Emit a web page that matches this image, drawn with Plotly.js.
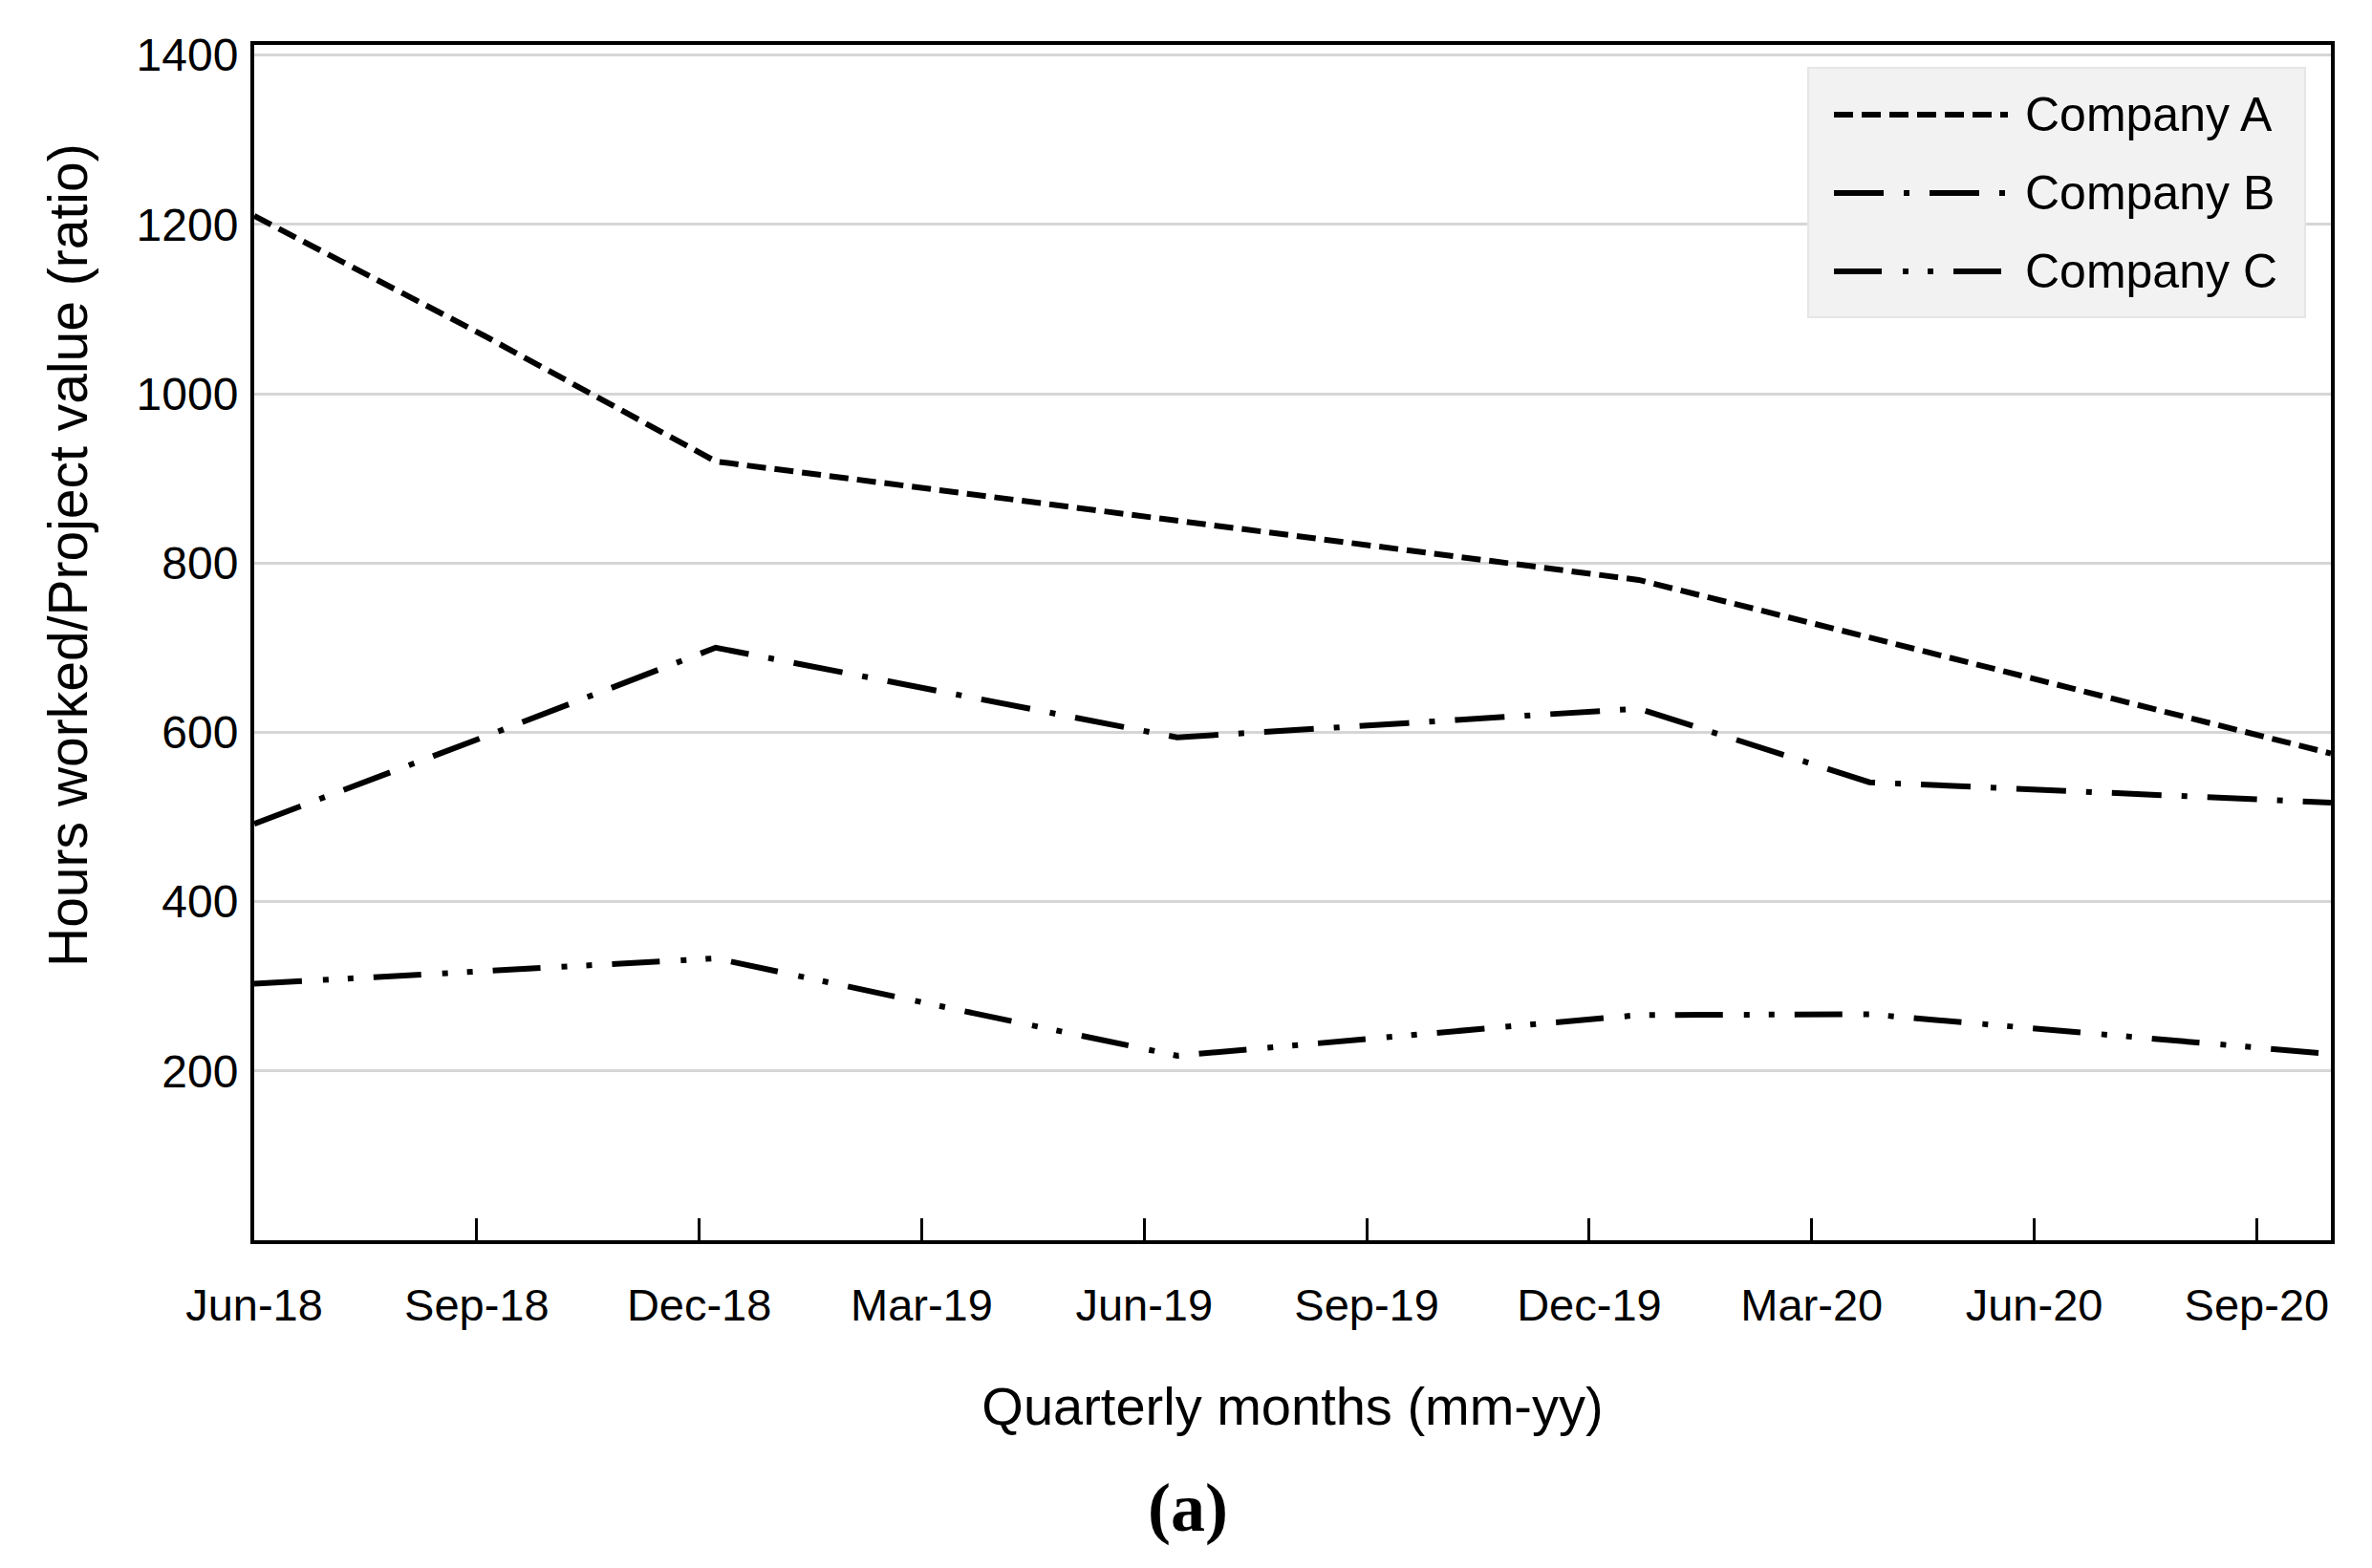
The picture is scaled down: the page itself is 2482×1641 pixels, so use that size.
<!DOCTYPE html>
<html>
<head>
<meta charset="utf-8">
<script src="https://cdn.plot.ly/plotly-3.0.1.min.js"></script>
<style>
  html, body { margin: 0; padding: 0; background: #ffffff; }
  #chart { width: 2482px; height: 1641px; }
</style>
</head>
<body>
<div id="chart"></div>
<script>
// ---- Data ----
const quarterLabels = ['Jun-18', 'Sep-18', 'Dec-18', 'Mar-19', 'Jun-19', 'Sep-19', 'Dec-19', 'Mar-20', 'Jun-20', 'Sep-20'];
const pointIndex = [0, 1, 2, 3, 4, 5, 6, 7, 8, 9];
const seriesNames = ['Company A', 'Company B', 'Company C'];
const companyA = [1210, 1068, 920, 885, 850, 815, 780, 712, 644, 575];
const companyB = [492, 595, 700, 647, 594, 611, 628, 541, 529, 517];
const companyC = [303, 318, 333, 275, 218, 242, 266, 267, 244, 220];
const yTickVals = [200, 400, 600, 800, 1000, 1200, 1400];

// axis spans Jun-18 .. Oct-20 (28 months) over the 10 evenly spaced points
const spanMonths = 28;
const lastIndex = pointIndex.length - 1;
const tickVals = quarterLabels.map((_, k) => k * 3 * lastIndex / spanMonths);

const dashes = ['20px,9px', '52px,21px,6px,21px', '50px,22px,6px,20px,6px,21px'];
const seriesValues = [companyA, companyB, companyC];

const traces = seriesValues.map((vals, s) => ({
  type: 'scatter',
  mode: 'lines',
  name: seriesNames[s],
  x: pointIndex,
  y: vals,
  line: { color: '#000000', width: 6, dash: dashes[s] },
  showlegend: false,
  hoverinfo: 'x+y+name'
}));

const W = 2482, H = 1641;
const mL = 266, mR = 43, mT = 47, mB = 343;
const pw = W - mL - mR, ph = H - mT - mB;
const px2x = p => (p - mL) / pw;         // pixel -> paper x
const px2y = p => (H - mB - p) / ph;     // pixel -> paper y

const sans = '"Liberation Sans", Arial, sans-serif';

// manual legend (long line samples as in the reference)
const legendRows = [120, 202, 284];
const shapes = [{
  type: 'rect', xref: 'paper', yref: 'paper', layer: 'above',
  x0: px2x(1892), x1: px2x(2412), y0: px2y(71), y1: px2y(332),
  fillcolor: '#f2f2f2', line: { color: '#e6e6e6', width: 2 }
}];
const annotations = [];
seriesNames.forEach((nm, s) => {
  shapes.push({
    type: 'line', xref: 'paper', yref: 'paper', layer: 'above',
    x0: px2x(1919), x1: px2x(2101), y0: px2y(legendRows[s]), y1: px2y(legendRows[s]),
    line: { color: '#000000', width: 6, dash: dashes[s] }
  });
  annotations.push({
    xref: 'paper', yref: 'paper', x: px2x(2117), y: px2y(legendRows[s]),
    xanchor: 'left', yanchor: 'middle', showarrow: false,
    text: nm, font: { family: sans, size: 50, color: '#000000' }
  });
});

annotations.push({
  xref: 'paper', yref: 'paper', x: px2x(71), y: px2y(581),
  xanchor: 'center', yanchor: 'middle', showarrow: false, textangle: -90,
  text: 'Hours worked/Project value (ratio)',
  font: { family: sans, size: 57, color: '#000000' }
});
annotations.push({
  xref: 'paper', yref: 'paper', x: px2x(1243), y: px2y(1578),
  xanchor: 'center', yanchor: 'middle', showarrow: false,
  text: '<b>(a)</b>',
  font: { family: '"Liberation Serif", "Times New Roman", serif', size: 72, color: '#000000' }
});

const layout = {
  width: W, height: H,
  margin: { l: mL, r: mR, t: mT, b: mB, pad: 0 },
  paper_bgcolor: '#ffffff', plot_bgcolor: '#ffffff',
  showlegend: false,
  xaxis: {
    range: [0, lastIndex],
    tickmode: 'array', tickvals: tickVals, ticktext: quarterLabels,
    ticks: 'inside', ticklen: 23, tickwidth: 3, tickcolor: '#000000',
    showgrid: false, zeroline: false,
    showline: true, mirror: true, linecolor: '#000000', linewidth: 4,
    ticklabelstandoff: 24,
    tickfont: { family: sans, size: 47, color: '#000000' },
    title: { text: 'Quarterly months (mm-yy)', standoff: 61,
             font: { family: sans, size: 56, color: '#000000' } }
  },
  yaxis: {
    range: [0, 1412],
    tickmode: 'array', tickvals: yTickVals,
    ticks: '', showgrid: true, gridcolor: '#d6d6d6', gridwidth: 3,
    zeroline: false,
    showline: true, mirror: true, linecolor: '#000000', linewidth: 4,
    ticklabelstandoff: 3,
    tickfont: { family: sans, size: 48, color: '#000000' }
  },
  shapes: shapes,
  annotations: annotations
};

Plotly.newPlot('chart', traces, layout, { displayModeBar: false, staticPlot: true });
</script>
</body>
</html>
